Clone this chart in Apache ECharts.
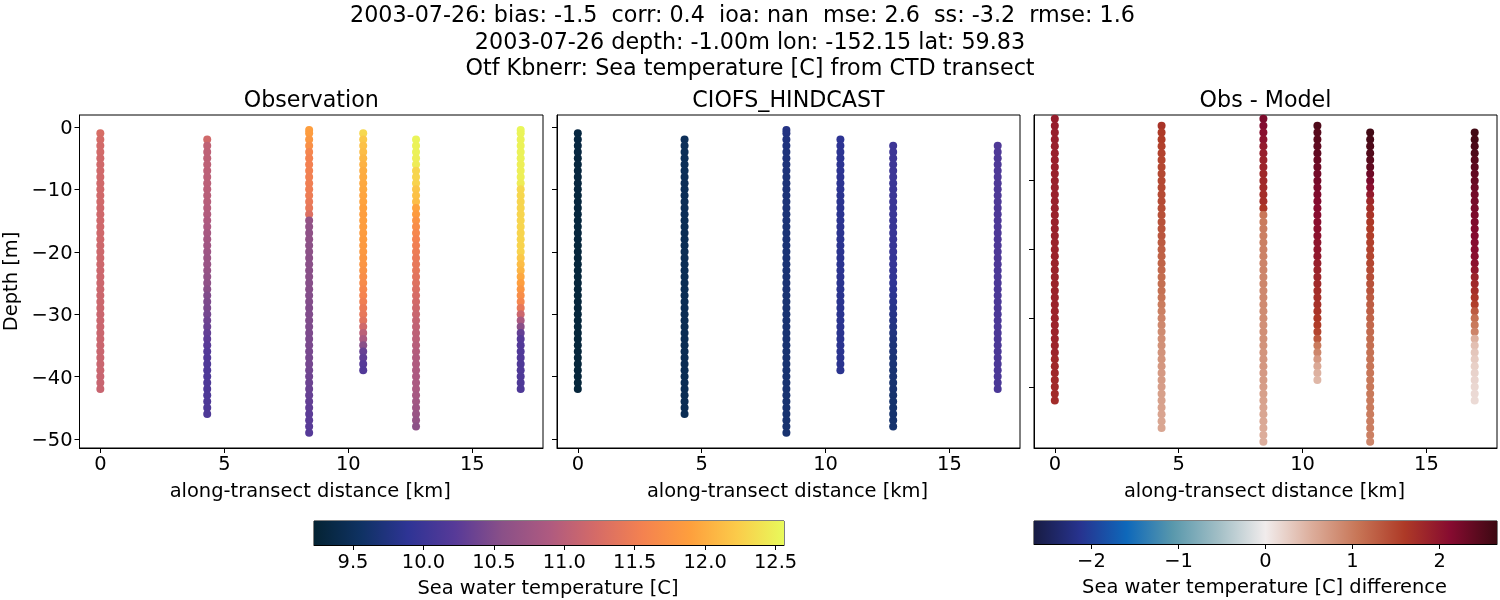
<!DOCTYPE html>
<html><head><meta charset="utf-8">
<style>html,body{margin:0;padding:0;background:#fff}#c{width:1500px;height:600px}</style>
<script src="https://cdn.jsdelivr.net/npm/echarts@6/dist/echarts.min.js"></script>
</head><body><div id="c"></div>
<script>
const columnKm = [0, 4.31, 8.42, 10.6, 12.73, 16.95];
const levels = [-0.5,-1,-2,-3,-4,-5,-6,-7,-8,-9,-10,-11,-12,-13,-14,-15,-16,-17,-18,-19,-20,-21,-22,-23,-24,-25,-26,-27,-28,-29,-30,-31,-32,-33,-34,-35,-36,-37,-38,-39,-40,-41,-42,-43,-44,-45,-46,-47,-48,-49];

const obsFirst = [-1, -2, -0.5, -1, -2, -0.5];
const obsCol1 = [11.25,11.22,11.2,11.2,11.18,11.18,11.18,11.18,11.18,11.18,11.18,11.18,11.17,11.17,11.17,11.17,11.17,11.17,11.16,11.16,11.16,11.16,11.15,11.15,11.15,11.14,11.14,11.14,11.14,11.13,11.13,11.13,11.13,11.13,11.13,11.12,11.12,11.12,11.12,11.11,11.11,11.11];
const obsCol2 = [11.18,11.04,11.03,11.02,11.02,11.01,11.0,11.0,10.99,10.98,10.97,10.95,10.93,10.9,10.87,10.83,10.8,10.77,10.74,10.72,10.7,10.67,10.63,10.6,10.55,10.5,10.47,10.45,10.42,10.38,10.35,10.3,10.27,10.24,10.2,10.18,10.16,10.15,10.15,10.15,10.15,10.15,10.15,10.15,10.15];
const obsCol3 = [11.88,11.86,11.8,11.72,11.6,11.56,11.55,11.54,11.53,11.52,11.5,11.48,11.45,11.42,11.3,10.65,10.62,10.6,10.6,10.58,10.58,10.57,10.56,10.55,10.55,10.54,10.53,10.52,10.51,10.5,10.5,10.49,10.48,10.47,10.46,10.45,10.44,10.43,10.42,10.4,10.38,10.36,10.34,10.32,10.3,10.28,10.26,10.25,10.24,10.22];
const obsCol4 = [12.32,12.2,12.15,12.12,12.08,12.04,12.0,11.98,11.97,11.96,11.94,11.92,11.9,11.88,11.88,11.87,11.86,11.85,11.84,11.82,11.8,11.78,11.74,11.7,11.66,11.62,11.58,11.52,11.46,11.42,11.34,11.18,11.0,10.85,10.55,10.33,10.28,10.22,10.18];
const obsCol5 = [12.52,12.5,12.5,12.48,12.46,12.3,12.3,12.28,12.18,12.15,12.12,11.92,11.85,11.75,11.68,11.62,11.56,11.52,11.48,11.45,11.42,11.4,11.36,11.32,11.28,11.24,11.2,11.16,11.12,11.08,11.05,11.02,11.0,10.97,10.94,10.92,10.9,10.88,10.87,10.86,10.85,10.82,10.78,10.74,10.7,10.65,10.58];
const obsCol6 = [12.54,12.52,12.5,12.5,12.5,12.5,12.48,12.48,12.48,12.46,12.32,12.31,12.3,12.3,12.3,12.3,12.3,12.29,12.29,12.28,12.28,12.2,12.12,12.06,11.96,11.88,11.78,11.7,11.6,11.42,11.15,10.85,10.55,10.3,10.22,10.18,10.17,10.17,10.16,10.16,10.15,10.15,10.15];

const modelFirst = [-1, -2, -0.5, -2, -3, -3];
const modelCol1 = [9.32,9.32,9.31,9.31,9.3,9.3,9.3,9.3,9.3,9.3,9.29,9.29,9.29,9.29,9.29,9.29,9.29,9.29,9.28,9.28,9.28,9.28,9.28,9.28,9.28,9.28,9.28,9.28,9.28,9.28,9.28,9.28,9.28,9.28,9.28,9.28,9.28,9.28,9.28,9.28,9.28,9.28];
const modelCol2 = [9.49,9.49,9.48,9.48,9.48,9.48,9.47,9.47,9.47,9.47,9.47,9.47,9.47,9.46,9.46,9.46,9.46,9.46,9.46,9.46,9.46,9.46,9.46,9.46,9.46,9.45,9.45,9.45,9.45,9.45,9.45,9.45,9.45,9.45,9.45,9.45,9.45,9.45,9.45,9.45,9.45,9.45,9.45,9.45,9.45];
const modelCol3 = [9.78,9.76,9.74,9.73,9.72,9.72,9.71,9.71,9.7,9.7,9.7,9.7,9.7,9.7,9.69,9.69,9.68,9.68,9.68,9.68,9.68,9.68,9.67,9.67,9.67,9.67,9.67,9.66,9.66,9.66,9.66,9.66,9.66,9.66,9.66,9.65,9.65,9.65,9.65,9.65,9.65,9.65,9.65,9.65,9.64,9.64,9.64,9.64,9.64,9.64];
const modelCol4 = [9.88,9.88,9.87,9.87,9.87,9.87,9.87,9.87,9.87,9.86,9.86,9.86,9.86,9.86,9.86,9.86,9.86,9.86,9.86,9.86,9.86,9.86,9.86,9.85,9.85,9.85,9.85,9.85,9.85,9.85,9.85,9.85,9.85,9.85,9.85,9.85,9.85,9.85];
const modelCol5 = [10.02,10.02,10.02,10.01,10.01,10.01,10.0,10.0,10.0,10.0,9.99,9.99,9.98,9.98,9.97,9.97,9.96,9.96,9.95,9.95,9.93,9.92,9.9,9.88,9.86,9.84,9.82,9.8,9.78,9.76,9.74,9.72,9.7,9.7,9.68,9.68,9.66,9.66,9.64,9.64,9.62,9.62,9.62,9.62,9.62,9.62];
const modelCol6 = [10.16,10.16,10.15,10.15,10.15,10.15,10.15,10.15,10.15,10.15,10.14,10.14,10.14,10.14,10.14,10.14,10.14,10.14,10.14,10.14,10.13,10.13,10.13,10.13,10.13,10.13,10.13,10.13,10.13,10.13,10.13,10.13,10.13,10.13,10.13,10.13,10.13,10.13,10.12,10.12];

const diffFirst = [-1, -2, -1, -2, -3, -3];
const diffCol1 = [1.92,1.92,1.9,1.9,1.89,1.88,1.88,1.88,1.87,1.87,1.87,1.87,1.87,1.87,1.87,1.87,1.87,1.87,1.86,1.86,1.86,1.86,1.86,1.86,1.86,1.86,1.86,1.86,1.85,1.85,1.84,1.84,1.84,1.84,1.84,1.8,1.8,1.8,1.78,1.78,1.76,1.75];
const diffCol2 = [1.68,1.6,1.58,1.54,1.52,1.5,1.48,1.47,1.47,1.46,1.45,1.44,1.42,1.4,1.38,1.36,1.34,1.3,1.26,1.24,1.22,1.18,1.14,1.12,1.1,1.06,1.0,0.96,0.92,0.88,0.85,0.82,0.8,0.78,0.76,0.74,0.72,0.7,0.68,0.66,0.65,0.64,0.62,0.6,0.6];
const diffCol3 = [2.2,2.15,2.08,2.04,1.96,1.9,1.86,1.84,1.8,1.78,1.76,1.74,1.72,1.62,1.05,1.0,0.98,0.97,0.96,0.95,0.94,0.92,0.92,0.9,0.9,0.88,0.88,0.86,0.85,0.84,0.82,0.82,0.8,0.78,0.76,0.75,0.74,0.72,0.7,0.68,0.66,0.64,0.62,0.6,0.58,0.56,0.54,0.52,0.5];
const diffCol4 = [2.52,2.46,2.44,2.4,2.4,2.34,2.3,2.26,2.24,2.2,2.18,2.14,2.12,2.1,2.08,2.06,2.05,2.02,2.0,1.98,1.9,1.86,1.82,1.78,1.74,1.72,1.7,1.66,1.62,1.58,1.5,1.32,1.02,0.9,0.72,0.58,0.5,0.45];
const diffCol5 = [2.62,2.58,2.54,2.5,2.45,2.4,2.3,2.2,2.08,1.95,1.8,1.72,1.66,1.62,1.58,1.56,1.54,1.52,1.5,1.48,1.44,1.42,1.38,1.36,1.3,1.28,1.26,1.22,1.18,1.16,1.14,1.12,1.1,1.08,1.06,1.05,1.04,1.04,1.03,1.02,1.02,1.0,0.98,0.98,0.96,0.9];
const diffCol6 = [2.62,2.6,2.56,2.52,2.46,2.42,2.38,2.35,2.3,2.26,2.24,2.22,2.2,2.18,2.16,2.14,2.12,2.1,2.08,2.05,1.98,1.86,1.78,1.72,1.64,1.55,1.3,1.1,1.02,0.92,0.5,0.38,0.32,0.28,0.24,0.22,0.2,0.18,0.16,0.15];

const tempMin = 9.223, tempMax = 12.56, diffMin = -2.66, diffMax = 2.66;
const kmTicks = [0, 5, 10, 15];
const depthTicks = [0, -10, -20, -30, -40, -50];
const diffDepthTicks = [-10, -20, -30, -40];
const tempTicks = [9.5, 10, 10.5, 11, 11.5, 12, 12.5];
const diffTicks = [-2, -1, 0, 1, 2];
const thermal = ['#042333','#0f3263','#2e3495','#573a98','#8a5088','#ae5a80','#d56b67','#f48250','#fe9f3d','#fbcb4a','#e8fa5b'];
const balance = ['#181c43','#27338f','#0e68ba','#5998ac','#a3bfc6','#f1ecec','#dcad9b','#c77556','#ae3a27','#860b30','#3c0912'];

const obsCols = [obsCol1, obsCol2, obsCol3, obsCol4, obsCol5, obsCol6];
const modelCols = [modelCol1, modelCol2, modelCol3, modelCol4, modelCol5, modelCol6];
const diffCols = [diffCol1, diffCol2, diffCol3, diffCol4, diffCol5, diffCol6];

const FONT = 'DejaVu Sans';
const TICK = 19.44, LABEL = 19.44, TITLE = 22.2, SUP = 22.25;
const fmtMinus = v => (v < 0 ? '\u2212' + Math.abs(v) : '' + v);

function pts(cols, firsts) {
  const out = [];
  cols.forEach((vals, c) => {
    const i0 = levels.indexOf(firsts[c]);
    vals.forEach((v, i) => out.push([columnKm[c], levels[i0 + i], v]));
  });
  return out;
}
function lineAxis(o) {
  return Object.assign({
    type: 'value', splitLine: {show: false}, scale: true,
    axisLine: {show: true, onZero: false, lineStyle: {color: '#000', width: 1}},
    axisTick: {show: true, length: 5, lineStyle: {color: '#000', width: 1}},
    axisLabel: {color: '#000', fontFamily: FONT, fontSize: TICK, margin: 7, hideOverlap: false}
  }, o);
}
function withTicks(ax, ticks, showLabels, fmt) {
  ax.axisTick.customValues = ticks;
  ax.axisLabel.customValues = ticks;
  ax.axisLabel.show = showLabels;
  ax.axisLabel.formatter = fmt;
  return ax;
}
const panels = [
  {left: 79.5, width: 463.5, data: pts(obsCols, obsFirst), yMin: -51.45, yMax: 1.92, yTicks: depthTicks, yLabels: true, title: 'Observation'},
  {left: 557, width: 463, data: pts(modelCols, modelFirst), yMin: -51.45, yMax: 1.92, yTicks: depthTicks, yLabels: false, title: 'CIOFS_HINDCAST'},
  {left: 1034, width: 463, data: pts(diffCols, diffFirst), yMin: -48.9, yMax: -0.44, yTicks: diffDepthTicks, yLabels: false, title: 'Obs - Model'}
];
const grid = [], xAxis = [], yAxis = [], series = [], title = [];
const supLines = ['2003-07-26: bias: -1.5  corr: 0.4  ioa: nan  mse: 2.6  ss: -3.2  rmse: 1.6',
 '2003-07-26 depth: -1.00m lon: -152.15 lat: 59.83',
 'Otf Kbnerr: Sea temperature [C] from CTD transect'];
const supCenter = [742.5, 750, 750], supTop = [5, 32, 58.5];
supLines.forEach((t, i) => {
  title.push({text: t, left: supCenter[i], textAlign: 'center', top: supTop[i], padding: 0,
    textStyle: {fontFamily: FONT, fontSize: SUP, fontWeight: 'normal', color: '#000'}});
});
panels.forEach((p, i) => {
  grid.push({left: p.left, width: p.width, top: 115, height: 333, show: true, borderColor: '#000', borderWidth: 1, backgroundColor: '#fff'});
  xAxis.push(withTicks(lineAxis({gridIndex: i, min: -0.84, max: 17.85,
    name: 'along-transect distance [km]', nameLocation: 'middle', nameGap: 34,
    nameTextStyle: {fontFamily: FONT, fontSize: LABEL, color: '#000', padding: [0, 2, 0, 0]}}), kmTicks, true, fmtMinus));
  const ya = lineAxis({gridIndex: i, min: p.yMin, max: p.yMax});
  ya.axisLabel.rich = {t: {fontFamily: FONT, fontSize: TICK, color: '#000', padding: [4, 0, 0, 0]}};
  if (i === 0) Object.assign(ya, {name: 'Depth [m]', nameLocation: 'middle', nameGap: 58, nameRotate: 90,
    nameTextStyle: {fontFamily: FONT, fontSize: LABEL, color: '#000'}});
  yAxis.push(withTicks(ya, p.yTicks, p.yLabels, v => '{t|' + fmtMinus(v) + '}'));
  series.push({type: 'scatter', xAxisIndex: i, yAxisIndex: i, data: p.data, symbol: 'circle', symbolSize: 8, clip: true, animation: false, itemStyle: {opacity: 1}});
  title.push({text: p.title, left: p.left + p.width / 2, textAlign: 'center', top: 90, padding: 0,
    textStyle: {fontFamily: FONT, fontSize: TITLE, fontWeight: 'normal', color: '#000'}});
});
const bars = [
  {left: 314, width: 470, top: 521, height: 24, min: tempMin, max: tempMax, stops: thermal, ticks: tempTicks, fmt: v => v.toFixed(1), name: 'Sea water temperature [C]'},
  {left: 1034, width: 463, top: 521, height: 23, min: diffMin, max: diffMax, stops: balance, ticks: diffTicks, fmt: fmtMinus, name: 'Sea water temperature [C] difference'}
];
bars.forEach((b, k) => {
  const i = 3 + k;
  grid.push({left: b.left, width: b.width, top: b.top, height: b.height, show: true, borderColor: '#000', borderWidth: 1});
  const ax = lineAxis({gridIndex: i, min: b.min, max: b.max, name: b.name, nameLocation: 'middle', nameGap: 34,
    nameTextStyle: {fontFamily: FONT, fontSize: LABEL, color: '#000', padding: [0, 2, 0, 0]}});
  ax.axisLabel.margin = 8;
  xAxis.push(withTicks(ax, b.ticks, true, b.fmt));
  yAxis.push({type: 'value', gridIndex: i, min: 0, max: 1, show: false});
  series.push({type: 'custom', xAxisIndex: i, yAxisIndex: i, silent: true, animation: false, z: 1,
    data: [[b.min, b.max]], clip: true, renderItem: (params, api) => {
      const a = api.coord([b.min, 0]), c = api.coord([b.max, 1]);
      return {type: 'rect', shape: {x: a[0], y: c[1], width: c[0] - a[0], height: a[1] - c[1]},
        style: {fill: new echarts.graphic.LinearGradient(0, 0, 1, 0, b.stops.map((col, j) => ({offset: j / (b.stops.length - 1), color: col})))}};
    }});
});
const chart = echarts.init(document.getElementById('c'), null, {renderer: 'canvas'});
chart.setOption({
  backgroundColor: '#fff', animation: false, title, grid, xAxis, yAxis, series,
  visualMap: [
    {show: false, type: 'continuous', seriesIndex: [0, 1], dimension: 2, min: tempMin, max: tempMax, inRange: {color: thermal}},
    {show: false, type: 'continuous', seriesIndex: [2], dimension: 2, min: diffMin, max: diffMax, inRange: {color: balance}}
  ]
});
</script></body></html>
